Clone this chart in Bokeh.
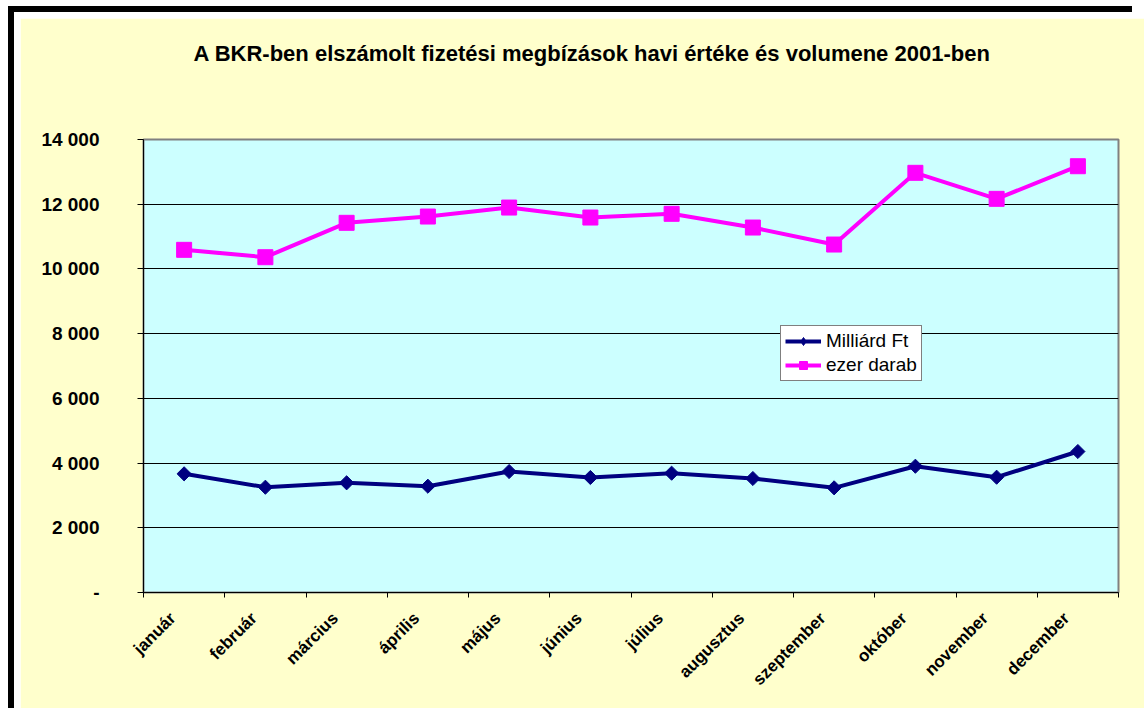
import numpy as np
from bokeh.plotting import figure
from bokeh.models import Range1d, FixedTicker, Legend, LegendItem, Title
from bokeh.embed import file_html
from bokeh.resources import INLINE

# ---- data ----
months = ["január", "február", "március", "április", "május", "június",
          "július", "augusztus", "szeptember", "október", "november", "december"]
milliard_ft = [3668, 3254, 3390, 3285, 3739, 3554, 3687, 3523, 3235, 3903, 3563, 4357]
ezer_darab = [10590, 10362, 11425, 11619, 11897, 11588, 11703, 11279, 10754, 12970, 12166, 13174]
y_ticks = [0, 2000, 4000, 6000, 8000, 10000, 12000, 14000]
y_tick_labels = ["-", "2 000", "4 000", "6 000", "8 000", "10 000", "12 000", "14 000"]
title_text = "A BKR-ben elszámolt fizetési megbízások havi értéke és volumene 2001-ben"
series_names = ["Milliárd Ft", "ezer darab"]

FONT = "Liberation Sans"
n = len(months)
xs = [i + 0.5 for i in range(n)]
label_shift = 0.14
label_pos = [x - label_shift for x in xs]

p = figure(width=1124, height=690, output_backend="svg", toolbar_location=None,
           title=None,
           x_range=Range1d(0, n), y_range=Range1d(0, 14000),
           min_border_left=123, min_border_right=26, min_border_top=121, min_border_bottom=116)
p.styles = {"margin-left": "20px", "margin-top": "18px",
            "box-shadow": ("-6px -6px 0 0 white, -6px 0 0 0 white, "
                           "-12px -12px 0 0 black, -12px 0 0 0 black")}

p.background_fill_color = "#CCFFFF"
p.border_fill_color = "#FFFFCC"
p.outline_line_color = "#808080"
p.outline_line_width = 2

# title (a blank spacer title sits between the chart title and the plot area)
spacer = Title(text=" ", text_font=FONT, text_font_size="10px", standoff=56)
p.add_layout(spacer, "above")
main_title = Title(text=title_text, align="left", offset=50, standoff=10,
                   text_font=FONT, text_font_style="bold", text_font_size="22px",
                   text_color="black")
p.add_layout(main_title, "above")

# y axis
p.yaxis.ticker = FixedTicker(ticks=y_ticks)
p.yaxis.major_label_overrides = {t: l for t, l in zip(y_ticks, y_tick_labels)}
p.yaxis.major_label_text_font = FONT
p.yaxis.major_label_text_font_style = "bold"
p.yaxis.major_label_text_font_size = "19px"
p.yaxis.major_label_text_color = "black"
p.yaxis.major_tick_out = 6
p.yaxis.major_tick_in = 0
p.yaxis.minor_tick_out = 0
p.yaxis.major_label_standoff = 38
p.yaxis.axis_line_color = "black"
p.yaxis.major_tick_line_color = "black"

# x axis
xax = p.xaxis[0]
xax.ticker = FixedTicker(ticks=label_pos, minor_ticks=list(range(n + 1)))
xax.major_label_overrides = {x: m for x, m in zip(label_pos, months)}
xax.major_label_orientation = np.pi / 4
xax.major_label_text_font = FONT
xax.major_label_text_font_style = "bold"
xax.major_label_text_font_size = "17px"
xax.major_label_text_color = "black"
xax.major_tick_out = 0
xax.major_tick_in = 0
xax.minor_tick_out = 5
xax.minor_tick_in = 0
xax.minor_tick_line_color = "black"
xax.major_label_standoff = 18
xax.axis_line_color = "black"

p.xgrid.visible = False
p.ygrid.ticker = FixedTicker(ticks=y_ticks)
p.ygrid.grid_line_color = "black"
p.ygrid.grid_line_width = 1

# series
l1 = p.line(xs, milliard_ft, line_color="#000080", line_width=4)
# diamond used for the legend symbol; hidden under the first plotted marker
m1_leg = p.scatter(xs[:1], milliard_ft[:1], marker="diamond", size=12,
                   fill_color="#000080", line_color="#000080")
m1 = p.scatter(xs, milliard_ft, marker="square", angle=np.pi / 4, size=10,
               fill_color="#000080", line_color="#000080")
l2 = p.line(xs, ezer_darab, line_color="#FF00FF", line_width=4)
m2 = p.scatter(xs, ezer_darab, marker="square", size=15,
               fill_color="#FF00FF", line_color="#FF00FF")

legend = Legend(items=[LegendItem(label=series_names[0], renderers=[l1, m1_leg]),
                       LegendItem(label=series_names[1], renderers=[l2, m2])],
                location=(637, 211))
legend.label_text_font = FONT
legend.label_text_font_size = "19px"
legend.label_text_color = "black"
legend.glyph_width = 36
legend.glyph_height = 20
legend.label_standoff = 5
legend.padding = 4
legend.spacing = 2
legend.margin = 0
legend.border_line_color = "black"
legend.border_line_width = 1
legend.background_fill_color = "white"
legend.background_fill_alpha = 1
p.add_layout(legend, "center")

open("out.html", "w").write(file_html(p, INLINE))
